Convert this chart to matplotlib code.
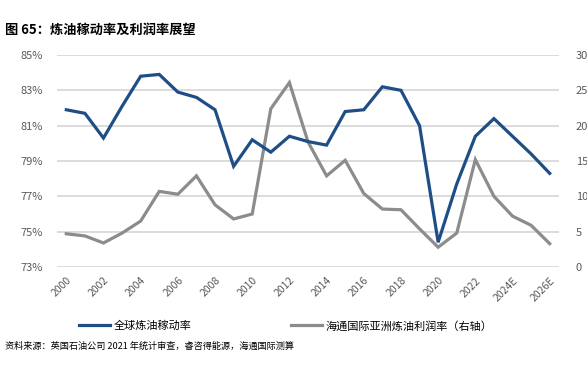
import matplotlib
matplotlib.use("Agg")
import matplotlib.pyplot as plt
import numpy as np

plt.rcParams['font.family'] = ['Noto Sans CJK SC', 'DejaVu Sans']

years = ["2000", "2001", "2002", "2003", "2004", "2005", "2006", "2007", "2008", "2009",
         "2010", "2011", "2012", "2013", "2014", "2015", "2016", "2017", "2018", "2019",
         "2020", "2021", "2022", "2023", "2024E", "2025E", "2026E"]
utilization = [81.9, 81.7, 80.3, 82.1, 83.8, 83.9, 82.9, 82.6, 81.9, 78.7,
               80.2, 79.5, 80.4, 80.1, 79.9, 81.8, 81.9, 83.2, 83.0, 81.0,
               74.4, 77.7, 80.4, 81.4, 80.4, 79.4, 78.3]
margin = [4.7, 4.4, 3.4, 4.8, 6.5, 10.7, 10.3, 12.9, 8.8, 6.8,
          7.5, 22.4, 26.1, 17.7, 12.9, 15.1, 10.4, 8.2, 8.1, 5.4,
          2.8, 4.8, 15.2, 10.0, 7.2, 5.9, 3.3]
left_ticks = [73, 75, 77, 79, 81, 83, 85]
right_ticks = [0, 5, 10, 15, 20, 25, 30]

W, H = 587, 366
fig = plt.figure(figsize=(W/100, H/100), dpi=100)
ax = fig.add_axes([57/W, 1-267/H, (559-57)/W, (267-55)/H])
ax2 = ax.twinx()

x = np.arange(len(years))
blue = '#1F4E87'
gray = '#8C8C8C'
txt = '#595959'

ax.set_zorder(ax2.get_zorder() + 1)
ax.patch.set_visible(False)
l1, = ax.plot(x, utilization, color=blue, lw=2.3, solid_joinstyle='miter', label='全球炼油稼动率')
l2, = ax2.plot(x, margin, color=gray, lw=2.3, solid_joinstyle='miter', label='海通国际亚洲炼油利润率（右轴）')

ax.set_ylim(73, 85)
ax2.set_ylim(0, 30)
ax.set_xlim(-0.5, len(years) - 0.5)
ax.set_yticks(left_ticks)
ax.set_yticklabels([f"{v}%" for v in left_ticks])
ax2.set_yticks(right_ticks)
ax2.set_yticklabels([str(v) for v in right_ticks])
ax2.grid(axis='y', color='#D9D9D9', lw=1.3)
ax2.set_axisbelow(True)

ax.set_xticks(x[::2])
ax.set_xticklabels(years[::2], rotation=45, ha='right', rotation_mode='anchor')

for a in (ax, ax2):
    for s in a.spines.values():
        s.set_visible(False)
    a.tick_params(length=0, colors=txt, labelsize=8)
ax.tick_params(axis='y', pad=10)
ax2.tick_params(axis='y', pad=12)
ax.tick_params(axis='x', pad=6, labelsize=7.5)

fig.text(5/W, 1-30/H, '图 65：炼油稼动率及利润率展望', fontsize=9.5, fontweight='bold', color='black', va='center')

fig.legend(handles=[l1, l2], loc='center', bbox_to_anchor=(0.487, 1-326/H), ncol=2, frameon=False,
           fontsize=8, handlelength=2.8, columnspacing=9, handletextpad=0.3)

fig.text(5/W, 1-346/H, '资料来源：英国石油公司 2021 年统计审查，睿咨得能源，海通国际测算', fontsize=6.6, color='black', va='center')

fig.savefig('out.png', dpi=100)
